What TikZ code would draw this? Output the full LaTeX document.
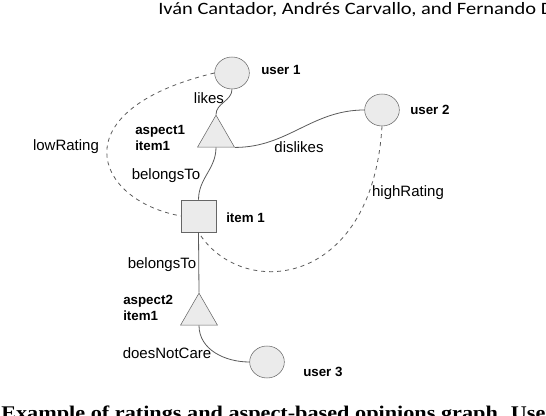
\documentclass[tikz,border=0pt]{standalone}
\usepackage{fontspec}
\setmainfont{Liberation Sans}
\newfontfamily\headfont[FakeStretch=1.18]{Carlito}
\newfontfamily\capfont[FakeStretch=1.15]{Liberation Serif}
\usetikzlibrary{shapes.geometric}

\definecolor{nodefill}{HTML}{EBEBEB}
\definecolor{nodeline}{HTML}{666666}
\definecolor{edgeline}{HTML}{5A5A5A}

\tikzset{
    user/.style={ellipse, draw=nodeline, fill=nodefill, minimum width=26pt, minimum height=24pt, inner sep=0pt},
    aspect/.style={regular polygon, regular polygon sides=3, draw=nodeline, fill=nodefill, minimum size=32pt, inner sep=0pt},
    item/.style={rectangle, draw=nodeline, fill=nodefill, minimum width=26pt, minimum height=24pt, inner sep=0pt},
    tag/.style={font=\bfseries, anchor=west, align=left, inner sep=0pt},
    rel/.style={inner sep=0pt},
    link/.style={draw=edgeline, semithick},
    rating/.style={draw=edgeline, semithick, dashed}
}

\begin{document}
\begin{tikzpicture}[x=0.75pt, y=-0.75pt, font=\fontsize{11.25}{13.5}\selectfont]
    \useasboundingbox (0,0) rectangle (546,416);

    % Page header and caption (cut by the frame)
    \node[anchor=base west, inner sep=0pt, font=\headfont\fontsize{13}{15}\selectfont] (header) at (158,15) {Iván Cantador, Andrés Carvallo, and Fernando Díez};
    \node[anchor=base west, inner sep=0pt, font=\capfont\bfseries\fontsize{14.5}{17}\selectfont] (caption) at (1,419.5) {Example of ratings and aspect-based opinions graph. Users};

    % Nodes
    \node[user] (u1) at (232,73) {};
    \node[user] (u2) at (382,110) {};
    \node[user] (u3) at (267,362) {};
    \node[aspect] (a1) at (216,136.5) {};
    \node[aspect] (a2) at (199,314.5) {};
    \node[item] (i1) at (198.5,216) {};

    % Node names
    \node[tag] (u1name) at (261,70) {user 1};
    \node[tag] (u2name) at (410,110) {user 2};
    \node[tag] (u3name) at (303,371.5) {user 3};
    \node[tag] (i1name) at (226,217.5) {item 1};
    \node[tag] (a1name) at (135,138) {aspect1\\item1};
    \node[tag] (a2name) at (123,308) {aspect2\\item1};

    % Opinions and membership
    \draw[link] (u1.south) to[out=-90, in=90] (a1.corner 1);
    \draw[link] (a1.corner 3) to[out=0, in=180] (u2.west);
    \draw[link] (a1.south) to[out=-90, in=90] (i1.north);
    \draw[link] (i1.south) -- (a2.corner 1);
    \draw[link] (a2.south) to[out=-90, in=180] (u3.west);

    % Ratings
    \draw[rating] (u1.west) .. controls (60,110) and (93,200) .. (i1.west);
    \draw[rating] (u2.south) .. controls (372,290) and (240,300) .. (i1.south);

    % Edge labels
    \node[rel] (likes) at (209,98) {likes};
    \node[rel] (dislikes) at (299,147) {dislikes};
    \node[rel] (belongs1) at (166,176) {belongsTo};
    \node[rel] (belongs2) at (162,265) {belongsTo};
    \node[rel] (doesnot) at (167,353) {doesNotCare};
    \node[rel] (low) at (66,147) {lowRating};
    \node[rel] (high) at (408,192.5) {highRating};
\end{tikzpicture}
\end{document}
